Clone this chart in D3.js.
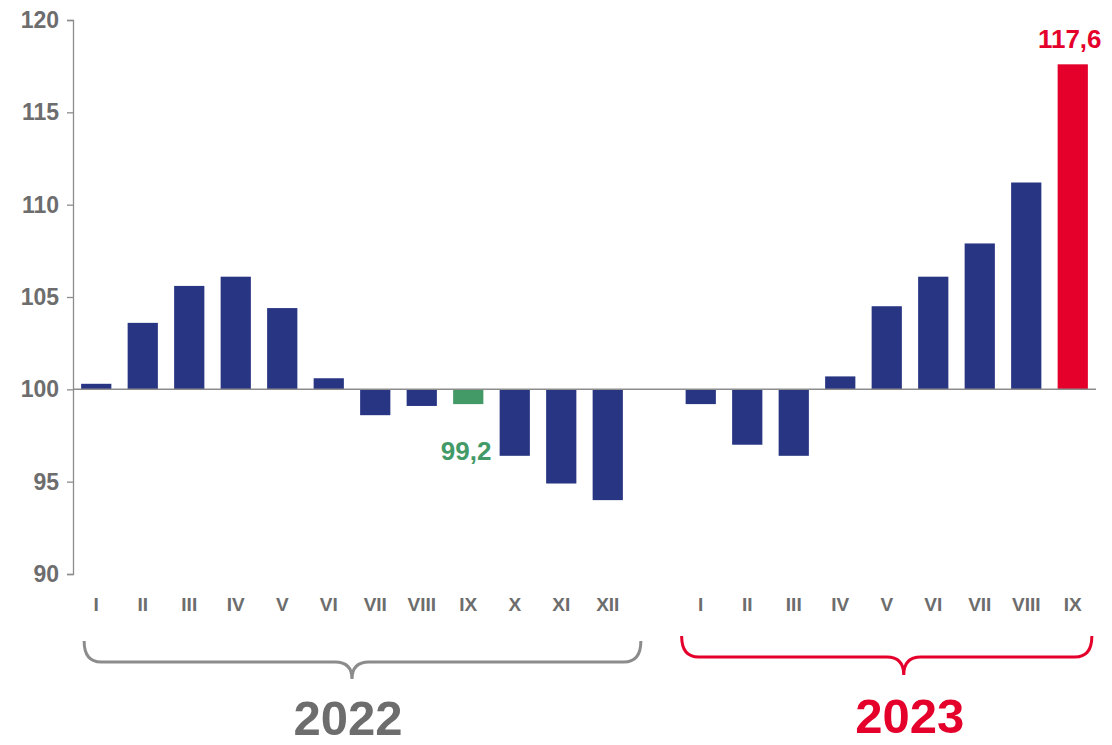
<!DOCTYPE html>
<html>
<head>
<meta charset="utf-8">
<script src="https://cdn.jsdelivr.net/npm/d3@7"></script>
<style>
  body { margin: 0; background: #fff; }
  text { font-family: "Liberation Sans", Arial, sans-serif; font-weight: bold; }
</style>
</head>
<body>
<script>
// data
const months2022 = ['I','II','III','IV','V','VI','VII','VIII','IX','X','XI','XII'];
const values2022 = [100.3, 103.6, 105.6, 106.1, 104.4, 100.6, 98.6, 99.1, 99.2, 96.4, 94.9, 94.0];
const months2023 = ['I','II','III','IV','V','VI','VII','VIII','IX'];
const values2023 = [99.2, 97.0, 96.4, 100.7, 104.5, 106.1, 107.9, 111.2, 117.6];
const yTicks = [90, 95, 100, 105, 110, 115, 120];
const years = ['2022', '2023'];

const navy = '#283583', green = '#439a66', red = '#e4002b', grey = '#6d6d6d', axisGrey = '#8c8c8c';

const bars = [];
months2022.forEach((m, i) => bars.push({key: '2022-' + m, label: m, value: values2022[i], year: 0}));
bars.push({key: 'gap', label: '', value: null});
months2023.forEach((m, i) => bars.push({key: '2023-' + m, label: m, value: values2023[i], year: 1}));

const svg = d3.select('body')
  .append('svg')
  .attr('width', 1112)
  .attr('height', 745);

const xScale = d3.scaleBand()
  .domain(bars.map(d => d.key))
  .range([73, 1096])
  .paddingInner(0.35)
  .paddingOuter(0.175);

const yScale = d3.scaleLinear()
  .domain([90, 120])
  .range([574, 20]);

// y axis
const yAxis = d3.axisLeft(yScale).tickValues(yTicks).tickSize(6).tickPadding(8);
const gy = svg.append('g')
  .attr('transform', 'translate(73,0)')
  .call(yAxis);
gy.select('.domain').attr('stroke', axisGrey).attr('stroke-width', 1.3);
gy.selectAll('.tick line').attr('stroke', axisGrey).attr('stroke-width', 1.3);
gy.selectAll('.tick text')
  .attr('fill', grey)
  .attr('font-size', 23)
  .attr('font-family', '"Liberation Sans", Arial, sans-serif')
  .attr('font-weight', 'bold');

// bars
const real = bars.filter(d => d.value !== null);
svg.selectAll('rect.bar')
  .data(real)
  .enter()
  .append('rect')
  .attr('class', 'bar')
  .attr('x', d => xScale(d.key))
  .attr('width', xScale.bandwidth())
  .attr('y', d => yScale(Math.max(d.value, 100)))
  .attr('height', d => Math.abs(yScale(d.value) - yScale(100)))
  .attr('fill', d => d.key === '2022-IX' ? green : (d.key === '2023-IX' ? red : navy));

// baseline at 100
svg.append('line')
  .attr('x1', 73).attr('x2', 1096)
  .attr('y1', yScale(100)).attr('y2', yScale(100))
  .attr('stroke', axisGrey).attr('stroke-width', 1.5);

// x tick labels
svg.selectAll('text.xl')
  .data(real)
  .enter()
  .append('text')
  .attr('class', 'xl')
  .attr('x', d => xScale(d.key) + xScale.bandwidth() / 2)
  .attr('y', 611)
  .attr('text-anchor', 'middle')
  .attr('font-size', 19)
  .attr('fill', grey)
  .text(d => d.label);

// value labels
const g9 = real.find(d => d.key === '2022-IX');
svg.append('text')
  .attr('x', xScale(g9.key) + xScale.bandwidth() + 8)
  .attr('y', 460)
  .attr('text-anchor', 'end')
  .attr('font-size', 26)
  .attr('fill', green)
  .text(d3.format('.1f')(g9.value).replace('.', ','));

const r9 = real.find(d => d.key === '2023-IX');
svg.append('text')
  .attr('x', xScale(r9.key) + xScale.bandwidth() / 2 - 3)
  .attr('y', yScale(r9.value) - 16)
  .attr('text-anchor', 'middle')
  .attr('font-size', 26)
  .attr('fill', red)
  .text(d3.format('.1f')(r9.value).replace('.', ','));

// braces
function brace(x0, x1, xc, yTop, yMid, yTip, color) {
  const r = 17;
  const p = `M${x0},${yTop} Q${x0},${yMid} ${x0 + r},${yMid} L${xc - r},${yMid} Q${xc},${yMid} ${xc},${yTip}`
    + ` M${xc},${yTip} Q${xc},${yMid} ${xc + r},${yMid} L${x1 - r},${yMid} Q${x1},${yMid} ${x1},${yTop}`;
  svg.append('path')
    .attr('d', p)
    .attr('fill', 'none')
    .attr('stroke', color)
    .attr('stroke-width', 3);
}

const bw = xScale.bandwidth();
const a0 = xScale('2022-I'), a1 = xScale('2022-XII') + bw;
brace(a0 + 3, a1 + 18, (a0 + a1) / 2, 641, 662, 679, axisGrey);
const b0 = xScale('2023-I'), b1 = xScale('2023-IX') + bw;
brace(b0 - 4, b1 + 4, (b0 + b1) / 2 + 17, 636, 657, 675, red);

svg.append('text')
  .attr('x', (a0 + a1) / 2 - 4)
  .attr('y', 735)
  .attr('text-anchor', 'middle')
  .attr('font-size', 49)
  .attr('fill', grey)
  .text(years[0]);

svg.append('text')
  .attr('x', (b0 + b1) / 2 + 23)
  .attr('y', 733)
  .attr('text-anchor', 'middle')
  .attr('font-size', 49)
  .attr('fill', red)
  .text(years[1]);
</script>
</body>
</html>
